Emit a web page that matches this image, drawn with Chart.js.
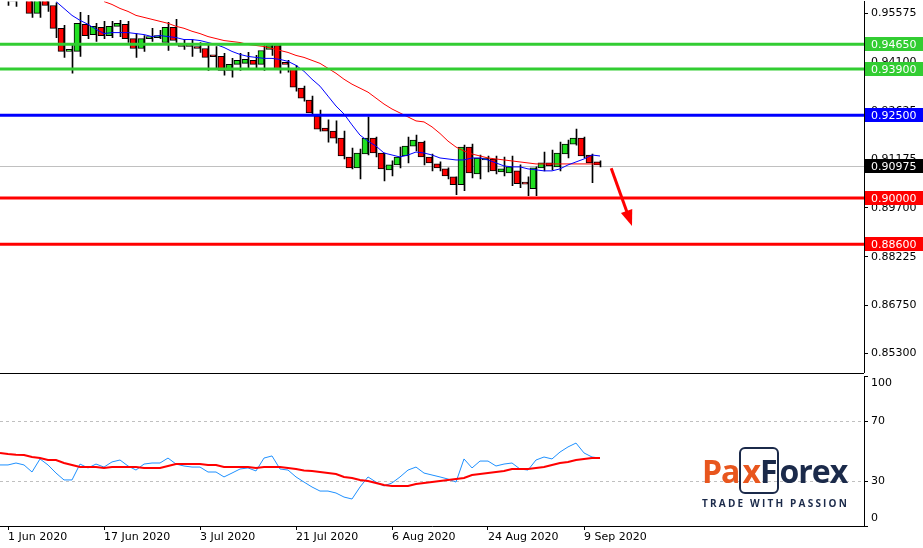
<!DOCTYPE html>
<html>
<head>
<meta charset="utf-8">
<script src="https://cdn.jsdelivr.net/npm/chart.js@4.4.0/dist/chart.umd.min.js"></script>
<style>
  html, body { margin: 0; padding: 0; background: #fff; }
  #wrap { position: relative; width: 923px; height: 548px; overflow: hidden; }
  #main { position: absolute; left: 0; top: -8px; }
  #osc { position: absolute; left: 0; top: 372px; }
  .logo { position: absolute; left: 702px; top: 452px; font-family: "Open Sans", "DejaVu Sans", sans-serif; }
  .logo .big { font-size: 32px; font-weight: 700; letter-spacing: -1px; line-height: 38px; white-space: nowrap; }
  .logo .o { color: #e8561e; }
  .logo .n { color: #1b2a4a; }
  .logo .box { border: 2.5px solid #1b2a4a; border-radius: 6px; padding: 0 1px; }
  .logo .tag { font-size: 10px; font-weight: 700; color: #1b2a4a; letter-spacing: 2.2px; margin-top: 6px; white-space: nowrap; }
</style>
</head>
<body>
<div id="wrap">
  <canvas id="main" width="923" height="390"></canvas>
  <canvas id="osc" width="923" height="176"></canvas>
  <div class="logo">
    <div class="big"><span class="o">Pa</span><span class="box"><span class="o">x</span><span class="n">F</span></span><span class="n">orex</span></div>
    <div class="tag">TRADE WITH PASSION</div>
  </div>
</div>
<script>
const dateLabels = ['1 Jun 2020', '17 Jun 2020', '3 Jul 2020', '21 Jul 2020', '6 Aug 2020', '24 Aug 2020', '9 Sep 2020'];
const dateIdx = [0, 12, 24, 36, 48, 60, 72];

const opens = [0.9615,0.9595,0.9610,0.9625,0.9558,0.9610,0.9582,0.9513,0.9443,0.9443,
  0.9525,0.9494,0.9516,0.9491,0.9519,0.9525,0.9482,0.9452,0.9482,0.9485,
  0.9470,0.9516,0.9464,0.9464,0.9458,0.9452,0.9428,0.9428,0.9386,0.9404,
  0.9407,0.9416,0.9404,0.9449,0.9461,0.9410,0.9392,0.9332,0.9296,0.9248,
  0.9211,0.9202,0.9181,0.9124,0.9091,0.9133,0.9181,0.9136,0.9085,0.9100,
  0.9127,0.9157,0.9169,0.9124,0.9103,0.9088,0.9064,0.9040,0.9154,0.9073,
  0.9115,0.9118,0.9079,0.9076,0.9082,0.9043,0.9028,0.9091,0.9106,0.9094,
  0.9133,0.9163,0.9181,0.9130,0.9109];
const closes = [0.9600,0.9610,0.9625,0.9558,0.9610,0.9582,0.9513,0.9443,0.9445,0.9528,
  0.9491,0.9519,0.9491,0.9519,0.9528,0.9482,0.9452,0.9482,0.9488,0.9491,
  0.9516,0.9476,0.9458,0.9458,0.9452,0.9425,0.9427,0.9386,0.9404,0.9416,
  0.9419,0.9404,0.9446,0.9461,0.9389,0.9404,0.9335,0.9302,0.9257,0.9208,
  0.9202,0.9181,0.9127,0.9091,0.9136,0.9181,0.9136,0.9088,0.9100,0.9124,
  0.9157,0.9175,0.9124,0.9106,0.9091,0.9067,0.9040,0.9154,0.9076,0.9121,
  0.9121,0.9082,0.9088,0.9094,0.9043,0.9042,0.9091,0.9106,0.9097,0.9136,
  0.9163,0.9181,0.9127,0.9106,0.9100];
const highs = [0.9625,0.9620,0.9635,0.9635,0.9625,0.9620,0.9590,0.9522,0.9464,0.9561,
  0.9552,0.9528,0.9534,0.9534,0.9537,0.9534,0.9497,0.9491,0.9513,0.9507,
  0.9531,0.9540,0.9479,0.9479,0.9470,0.9464,0.9458,0.9437,0.9422,0.9437,
  0.9440,0.9431,0.9461,0.9464,0.9464,0.9416,0.9401,0.9338,0.9308,0.9266,
  0.9236,0.9233,0.9202,0.9151,0.9148,0.9245,0.9184,0.9136,0.9112,0.9154,
  0.9184,0.9190,0.9172,0.9133,0.9109,0.9091,0.9064,0.9160,0.9163,0.9130,
  0.9127,0.9127,0.9124,0.9127,0.9100,0.9064,0.9094,0.9139,0.9145,0.9169,
  0.9175,0.9208,0.9184,0.9133,0.9112];
const lows = [0.9582,0.9579,0.9600,0.9546,0.9546,0.9564,0.9485,0.9425,0.9377,0.9428,
  0.9482,0.9473,0.9482,0.9485,0.9488,0.9470,0.9425,0.9443,0.9473,0.9482,
  0.9446,0.9470,0.9449,0.9428,0.9440,0.9386,0.9392,0.9371,0.9365,0.9386,
  0.9389,0.9389,0.9386,0.9431,0.9377,0.9380,0.9323,0.9293,0.9254,0.9202,
  0.9169,0.9166,0.9118,0.9088,0.9058,0.9130,0.9124,0.9052,0.9067,0.9091,
  0.9106,0.9142,0.9100,0.9082,0.9082,0.9058,0.9010,0.9022,0.9061,0.9058,
  0.9079,0.9073,0.9067,0.9037,0.9031,0.9007,0.9007,0.9082,0.9085,0.9082,
  0.9121,0.9160,0.9121,0.9046,0.9094];

// moving averages (first index where they show on the chart)
const fastStart = 6;
const fastMA = [0.9594,0.9573,0.9552,0.9537,0.9525,0.9510,0.9497,0.9500,0.9500,0.9500,
  0.9497,0.9494,0.9488,0.9491,0.9488,0.9485,0.9479,0.9479,0.9476,0.9470,
  0.9464,0.9455,0.9443,0.9434,0.9428,0.9425,0.9422,0.9422,0.9419,0.9413,
  0.9401,0.9383,0.9359,0.9338,0.9308,0.9278,0.9254,0.9221,0.9190,0.9172,
  0.9157,0.9136,0.9130,0.9124,0.9130,0.9139,0.9136,0.9130,0.9121,0.9118,
  0.9115,0.9115,0.9121,0.9121,0.9115,0.9106,0.9097,0.9094,0.9094,0.9088,
  0.9085,0.9082,0.9082,0.9088,0.9100,0.9109,0.9118,0.9130,0.9127];
const slowStart = 12;
const slowMA = [0.9594,0.9585,0.9573,0.9564,0.9552,0.9546,0.9540,0.9534,0.9528,0.9519,
  0.9513,0.9504,0.9497,0.9488,0.9482,0.9476,0.9473,0.9470,0.9464,0.9461,
  0.9458,0.9452,0.9446,0.9440,0.9431,0.9425,0.9416,0.9407,0.9392,0.9377,
  0.9359,0.9344,0.9332,0.9320,0.9302,0.9284,0.9269,0.9257,0.9245,0.9233,
  0.9230,0.9215,0.9195,0.9172,0.9154,0.9142,0.9133,0.9127,0.9121,0.9118,
  0.9115,0.9112,0.9109,0.9106,0.9103,0.9103,0.9103,0.9103,0.9103,0.9103,
  0.9103,0.9103,0.9103];

const priceTicks = [0.853, 0.8675, 0.88225, 0.897, 0.91175, 0.92625, 0.941, 0.95575];
const levels = [
  { v: 0.9465, c: '#32cd32' },
  { v: 0.9390, c: '#32cd32' },
  { v: 0.9250, c: '#0000ff' },
  { v: 0.9000, c: '#ff0000' },
  { v: 0.8860, c: '#ff0000' },
];
const lastPrice = 0.90975;
const arrowFrom = [75.4, 0.9090];
const arrowTo = [78, 0.8915];

// oscillator, first point at index -1
const oscStart = -1;
const oscMain = [40.7,40.7,42,40.7,36,44.7,40.7,35.3,30.7,30.7,41.3,38.7,41.3,39.3,42.7,44,40,37.3,41.3,42,42,
  45.3,41.3,40,39.3,39.3,36,36,32.7,35.3,38,38.7,36.7,45.3,46.7,38,37.3,32.7,29.3,26,23.3,
  23.3,22,19.3,18,26,32.7,29.3,26.7,28.7,32.7,37.3,39.3,35.3,34,32.7,31.3,29.3,44.7,38.7,
  43.3,43.3,40,41.3,42,38,37.3,44,46,44.7,49.3,52.7,55.3,48.7,46,45.3];
const oscSignal = [48.7,48,47.5,47.3,46,45.3,44,44,42,40.7,39.3,39.3,39.3,38.7,39.3,39.3,39.3,39.3,38.7,38.7,
  38.7,40,41.3,41.3,41.3,41.3,40.7,40.7,39.3,39.3,39.3,39.3,38.7,39.3,39.3,39.3,38.7,38,37,36.7,
  36,35.3,34.7,32.7,32,30.7,30,28.7,27.3,26.7,26.7,26.7,28,28.7,29.3,30,30.7,31.3,32,34,
  34.7,35.3,36,36.7,38,38,38,38.7,39.3,40.7,42,42.7,44,44.7,45.3,45.3];
const oscTicks = [0, 30, 70, 100];

const FONT = { family: 'DejaVu Sans', size: 11 };
const X_MIN = -1, X_MAX = 107;

const wicks = highs.map((h, i) => ({ x: i, y: [lows[i], h] }));
const bodies = opens.map((o, i) => ({ x: i, y: [Math.min(o, closes[i]), Math.max(o, closes[i])] }));
const bodyColors = opens.map((o, i) => closes[i] >= o ? '#22e022' : '#ff0000');

const levelsPlugin = {
  id: 'levels',
  beforeDatasetsDraw(chart) {
    const { ctx, chartArea: a, scales: { y } } = chart;
    ctx.save();
    ctx.strokeStyle = '#c0c0c0';
    ctx.lineWidth = 1;
    const py = Math.round(y.getPixelForValue(lastPrice)) + 0.5;
    ctx.beginPath(); ctx.moveTo(a.left, py); ctx.lineTo(a.right, py); ctx.stroke();
    ctx.restore();
  },
  afterDraw(chart) {
    const { ctx, chartArea: a, scales: { x, y } } = chart;
    ctx.save();
    levels.forEach(l => {
      const py = y.getPixelForValue(l.v);
      ctx.strokeStyle = l.c; ctx.lineWidth = 3;
      ctx.beginPath(); ctx.moveTo(a.left, py); ctx.lineTo(a.right, py); ctx.stroke();
    });
    // arrow
    const x1 = x.getPixelForValue(arrowFrom[0]), y1 = y.getPixelForValue(arrowFrom[1]);
    const x2 = x.getPixelForValue(arrowTo[0]), y2 = y.getPixelForValue(arrowTo[1]);
    const ang = Math.atan2(y2 - y1, x2 - x1);
    ctx.strokeStyle = '#ff0000'; ctx.fillStyle = '#ff0000'; ctx.lineWidth = 3;
    ctx.beginPath(); ctx.moveTo(x1, y1);
    ctx.lineTo(x2 - 12 * Math.cos(ang), y2 - 12 * Math.sin(ang)); ctx.stroke();
    ctx.beginPath(); ctx.moveTo(x2, y2);
    ctx.lineTo(x2 - 16 * Math.cos(ang) + 6 * Math.sin(ang), y2 - 16 * Math.sin(ang) - 6 * Math.cos(ang));
    ctx.lineTo(x2 - 16 * Math.cos(ang) - 6 * Math.sin(ang), y2 - 16 * Math.sin(ang) + 6 * Math.cos(ang));
    ctx.closePath(); ctx.fill();
    // price boxes on the axis
    ctx.font = '11px DejaVu Sans';
    ctx.textBaseline = 'middle';
    const boxes = levels.map(l => ({ v: l.v, c: l.c })).concat([{ v: lastPrice, c: '#000000' }]);
    boxes.forEach(b => {
      const py = Math.round(y.getPixelForValue(b.v));
      ctx.fillStyle = b.c;
      ctx.fillRect(a.right + 1, py - 7, 923 - a.right, 14);
      ctx.fillStyle = '#fff';
      ctx.fillText(b.v.toFixed(5), a.right + 7, py + 1);
    });
    ctx.restore();
  }
};

new Chart(document.getElementById('main'), {
  data: {
    datasets: [
      { type: 'line', data: slowMA.map((v, i) => ({ x: i + slowStart, y: v })), borderColor: '#ff0000', borderWidth: 1, pointRadius: 0, order: 1 },
      { type: 'line', data: fastMA.map((v, i) => ({ x: i + fastStart, y: v })), borderColor: '#0000ff', borderWidth: 1, pointRadius: 0, order: 0 },
      { type: 'bar', data: wicks, backgroundColor: '#000', barThickness: 1, order: 3 },
      { type: 'bar', data: bodies, backgroundColor: bodyColors, borderColor: '#000', borderWidth: 1, borderSkipped: false, barThickness: 6, minBarLength: 2, order: 2 },
    ]
  },
  options: {
    responsive: false, animation: false,
    layout: { padding: 0 },
    plugins: { legend: { display: false }, tooltip: { enabled: false } },
    scales: {
      x: { type: 'linear', min: X_MIN, max: X_MAX, display: false, grouped: false, offset: false },
      y: {
        position: 'right', min: 0.84728, max: 0.95937,
        afterFit(s) { s.width = 59; },
        afterBuildTicks(s) { s.ticks = priceTicks.map(v => ({ value: v })); },
        ticks: { color: '#000', font: FONT, padding: 3, callback: v => v.toFixed(5) },
        grid: { drawOnChartArea: false, tickLength: 4, color: '#000' },
        border: { color: '#000', width: 1 }
      }
    }
  },
  plugins: [levelsPlugin]
});

const framePlugin = {
  id: 'frame',
  afterDraw(chart) {
    const { ctx, chartArea: a, scales: { y } } = chart;
    ctx.save();
    ctx.strokeStyle = '#000'; ctx.lineWidth = 1;
    ctx.beginPath(); ctx.moveTo(0, 1.5); ctx.lineTo(a.right, 1.5); ctx.stroke();
    // axis labels sit inside the panel, like the terminal draws them
    ctx.fillStyle = '#000'; ctx.font = '11px DejaVu Sans'; ctx.textBaseline = 'middle';
    oscTicks.forEach(v => {
      const shown = Math.min(95, Math.max(5, v));
      ctx.fillText(String(v), a.right + 7, y.getPixelForValue(shown));
    });
    ctx.restore();
  }
};

new Chart(document.getElementById('osc'), {
  type: 'line',
  data: {
    datasets: [
      { data: oscSignal.map((v, i) => ({ x: i + oscStart, y: v })), borderColor: '#ff0000', borderWidth: 2, pointRadius: 0 },
      { data: oscMain.map((v, i) => ({ x: i + oscStart, y: v })), borderColor: '#1e90ff', borderWidth: 1, pointRadius: 0 },
    ]
  },
  options: {
    responsive: false, animation: false,
    layout: { padding: { top: 4 } },
    plugins: { legend: { display: false }, tooltip: { enabled: false } },
    scales: {
      x: {
        type: 'linear', min: X_MIN, max: X_MAX,
        afterFit(s) { s.height = 22; },
        afterBuildTicks(s) { s.ticks = dateIdx.map(v => ({ value: v })); },
        ticks: { color: '#000', font: FONT, align: 'start', padding: 1, maxRotation: 0, autoSkip: false,
          callback: v => dateLabels[dateIdx.indexOf(v)] },
        grid: { drawOnChartArea: false, tickLength: 4, color: '#000' },
        border: { color: '#000', width: 1 }
      },
      y: {
        position: 'right', min: 0, max: 100,
        afterFit(s) { s.width = 59; },
        afterBuildTicks(s) { s.ticks = oscTicks.map(v => ({ value: v })); },
        ticks: { display: false },
        grid: {
          color: c => (c.tick && (c.tick.value === 30 || c.tick.value === 70)) ? '#c0c0c0' : 'rgba(0,0,0,0)',
          tickColor: '#000', tickLength: 4
        },
        border: { color: '#000', width: 1, dash: [3, 3] }
      }
    }
  },
  plugins: [framePlugin]
});
</script>
</body>
</html>
